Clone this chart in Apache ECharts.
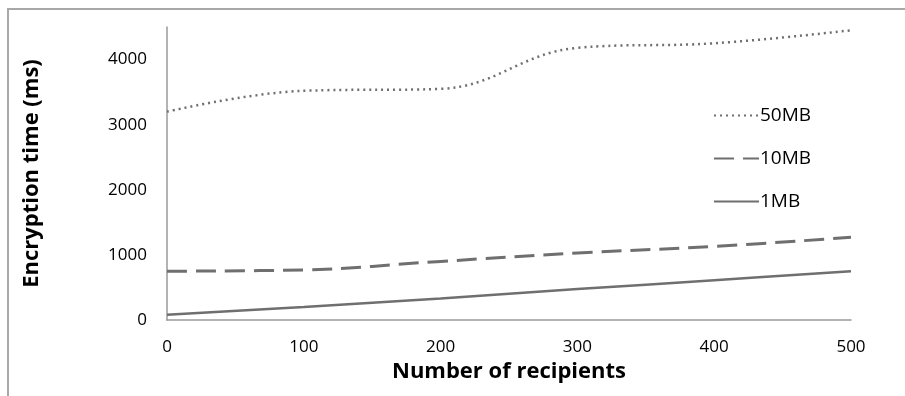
<!DOCTYPE html>
<html>
<head>
<meta charset="utf-8">
<script src="https://cdn.jsdelivr.net/npm/echarts@6/dist/echarts.min.js"></script>
<style>
html,body{margin:0;padding:0;background:#fff;}
#c{width:905px;height:396px;}
</style>
</head>
<body>
<div id="c"></div>
<script>
var xValues = [0, 100, 200, 300, 400, 500];
var yTicks = [0, 1000, 2000, 3000, 4000];
var series50MB = [3200, 3520, 3550, 4180, 4250, 4450];
var series10MB = [750, 770, 900, 1030, 1130, 1270];
var series1MB = [80, 200, 330, 475, 610, 750];
var seriesNames = ['50MB', '10MB', '1MB'];

function pairs(vals){ return xValues.map(function(x,i){ return [x, vals[i]]; }); }

var FONT = 'Open Sans';
var lineColor = '#6f6f6f';
var chart = echarts.init(document.getElementById('c'));
chart.setOption({
  animation: false,
  backgroundColor: '#fff',
  grid: { left: 167, right: 54, top: 27, bottom: 76, containLabel: false },
  xAxis: {
    type: 'value', min: 0, max: 500, interval: 100,
    axisLine: { show: true, lineStyle: { color: '#9a9a9a', width: 1.5 } },
    axisTick: { show: false },
    splitLine: { show: false },
    axisLabel: { color: '#000', fontFamily: FONT, fontSize: 17, margin: 19 },
    name: 'Number of recipients', nameLocation: 'middle', nameGap: 36,
    nameTextStyle: { color: '#000', fontFamily: FONT, fontSize: 22, fontWeight: 'bold' }
  },
  yAxis: {
    type: 'value', min: 0, max: 4500, interval: 1000,
    axisLine: { show: true, lineStyle: { color: '#9a9a9a', width: 1.5 } },
    axisTick: { show: false },
    splitLine: { show: false },
    axisLabel: { color: '#000', fontFamily: FONT, fontSize: 17, margin: 20,
      formatter: function(v){ return yTicks.indexOf(v) >= 0 ? String(v) : ''; } },
    name: 'Encryption time (ms)', nameLocation: 'middle', nameGap: 124, nameRotate: 90,
    nameTextStyle: { color: '#000', fontFamily: FONT, fontSize: 22, fontWeight: 'bold' }
  },
  legend: {
    orient: 'vertical', left: 708, top: 101, itemWidth: 45, itemHeight: 14, itemGap: 24,
    data: seriesNames,
    itemStyle: { color: 'rgba(0,0,0,0)', borderWidth: 0, opacity: 0 },
    textStyle: { color: '#000', fontFamily: FONT, fontSize: 19, padding: [0,0,0,-4] }
  },
  graphic: [{
    type: 'rect', silent: true, z: -1,
    shape: { x: 8, y: 9, width: 1000, height: 500 },
    style: { fill: 'none', stroke: '#a8a8a8', lineWidth: 2 }
  }],
  series: [
    { name: seriesNames[0], type: 'line', data: pairs(series50MB), smooth: 0.4, symbol: 'none',
      lineStyle: { color: lineColor, width: 2.5, type: [2, 4] }, itemStyle: { color: lineColor } },
    { name: seriesNames[1], type: 'line', data: pairs(series10MB), smooth: 0.4, symbol: 'none',
      lineStyle: { color: lineColor, width: 3, type: [20, 9] }, itemStyle: { color: lineColor } },
    { name: seriesNames[2], type: 'line', data: pairs(series1MB), smooth: 0.4, symbol: 'none',
      lineStyle: { color: lineColor, width: 2.5 }, itemStyle: { color: lineColor } }
  ]
});
</script>
</body>
</html>
